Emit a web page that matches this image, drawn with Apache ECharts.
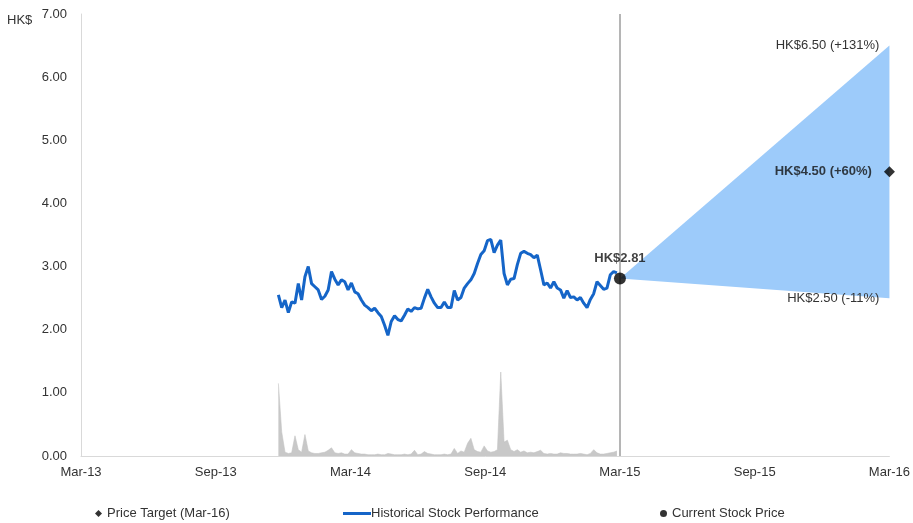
<!DOCTYPE html>
<html>
<head>
<meta charset="utf-8">
<script src="https://cdn.jsdelivr.net/npm/echarts@6/dist/echarts.min.js"></script>
<style>
  html, body { margin: 0; padding: 0; background: #fff; }
  #chart { width: 913px; height: 523px; }
</style>
</head>
<body>
<div id="chart"></div>
<script>
// x axis runs in months after Mar-13
const monthLabels = ["Mar-13", "Sep-13", "Mar-14", "Sep-14", "Mar-15", "Sep-15", "Mar-16"];

// closes, from early Dec-13 to Mar-15
const histStartMonth = 8.79;
const histStepMonth = 0.1478;
const histPrice = [
  2.55, 2.35, 2.47, 2.27, 2.44, 2.42, 2.73, 2.47, 2.84, 3.00,
  2.73, 2.68, 2.63, 2.48, 2.53, 2.63, 2.92, 2.80, 2.71, 2.79,
  2.76, 2.63, 2.74, 2.60, 2.57, 2.47, 2.39, 2.35, 2.30, 2.34,
  2.27, 2.21, 2.07, 1.91, 2.13, 2.22, 2.16, 2.14, 2.23, 2.33,
  2.29, 2.35, 2.33, 2.34, 2.50, 2.64, 2.52, 2.42, 2.35, 2.35,
  2.44, 2.35, 2.35, 2.62, 2.47, 2.51, 2.66, 2.73, 2.79, 2.89,
  3.05, 3.19, 3.25, 3.41, 3.43, 3.22, 3.34, 3.42, 2.89, 2.71,
  2.80, 2.81, 3.03, 3.21, 3.24, 3.21, 3.19, 3.14, 3.18, 2.95,
  2.71, 2.74, 2.66, 2.76, 2.66, 2.63, 2.50, 2.62, 2.51, 2.52,
  2.47, 2.51, 2.42, 2.35, 2.48, 2.57, 2.76, 2.70, 2.64, 2.66,
  2.87, 2.92, 2.90
];
const histVolume = [
  1.15, 0.38, 0.06, 0.04, 0.05, 0.32, 0.10, 0.06, 0.34, 0.08,
  0.05, 0.04, 0.04, 0.05, 0.06, 0.09, 0.13, 0.05, 0.04, 0.05,
  0.03, 0.03, 0.10, 0.05, 0.04, 0.03, 0.03, 0.02, 0.02, 0.02,
  0.03, 0.02, 0.02, 0.04, 0.03, 0.02, 0.02, 0.02, 0.03, 0.02,
  0.03, 0.09, 0.02, 0.03, 0.07, 0.04, 0.03, 0.02, 0.02, 0.02,
  0.03, 0.02, 0.03, 0.12, 0.04, 0.08, 0.06, 0.20, 0.28, 0.10,
  0.07, 0.06, 0.16, 0.08, 0.06, 0.07, 0.10, 1.33, 0.22, 0.25,
  0.10, 0.07, 0.10, 0.06, 0.08, 0.05, 0.06, 0.05, 0.07, 0.09,
  0.04, 0.03, 0.04, 0.03, 0.03, 0.05, 0.04, 0.04, 0.03, 0.03,
  0.03, 0.04, 0.03, 0.02, 0.04, 0.10, 0.05, 0.03, 0.03, 0.04,
  0.05, 0.06, 0.08
];

const currentMonth = 24;
const currentPrice = 2.81;
const targetMonth = 36;
const targetLow = 2.5;
const targetMid = 4.5;
const targetHigh = 6.5;
const targetLabels = ["HK$6.50 (+131%)", "HK$4.50 (+60%)", "HK$2.50 (-11%)"];

const histX = (i) => histStartMonth + i * histStepMonth;
const priceData = histPrice.map((v, i) => [histX(i), v]);
const volumeData = histVolume.map((v, i) => [histX(i), v]);

const FONT = "Liberation Sans, Arial, sans-serif";
const chart = echarts.init(document.getElementById("chart"), null, { renderer: "canvas" });

// target range wedge: from today's price out to the low/high targets
function renderBand(params, api) {
  const start = api.coord([api.value(0), api.value(1)]);
  const high = api.coord([api.value(2), api.value(4)]);
  const low = api.coord([api.value(2), api.value(3)]);
  const font = "13px " + FONT;
  return {
    type: "group",
    children: [
      {
        type: "polygon",
        shape: { points: [start, high, low] },
        style: { fill: "#9dcbfa" },
      },
      {
        type: "text",
        x: high[0] - 10,
        y: high[1],
        style: { text: targetLabels[0], font, fill: "#333", align: "right", verticalAlign: "middle" },
      },
      {
        type: "text",
        x: low[0] - 10,
        y: low[1],
        style: { text: targetLabels[2], font, fill: "#333", align: "right", verticalAlign: "middle" },
      },
    ],
  };
}

const legendBase = {
  bottom: -2,
  itemGap: 0,
  textStyle: { fontFamily: FONT, fontSize: 13, color: "#333" },
  selectedMode: false,
};

chart.setOption({
  animation: false,
  textStyle: { fontFamily: FONT },
  grid: { left: 81, right: 20, top: 14, bottom: 67 },
  graphic: [
    { type: "text", left: 7, top: 14, style: { text: "HK$", font: "13px " + FONT, fill: "#333" } },
  ],
  legend: [
    Object.assign({}, legendBase, {
      left: 90, data: [{ name: "Price Target (Mar-16)", icon: "diamond" }],
      itemWidth: 7, itemHeight: 7,
    }),
    Object.assign({}, legendBase, {
      left: 338, data: [{ name: "Historical Stock Performance", icon: "rect" }],
      itemWidth: 28, itemHeight: 3,
      textStyle: Object.assign({}, legendBase.textStyle, { padding: [0, 0, 0, -5] }),
    }),
    Object.assign({}, legendBase, {
      left: 655, data: [{ name: "Current Stock Price", icon: "circle" }],
      itemWidth: 7, itemHeight: 7,
    }),
  ],
  xAxis: {
    type: "value",
    min: 0,
    max: 36,
    interval: 6,
    axisLine: { lineStyle: { color: "#d9d9d9", width: 1 } },
    axisTick: { show: false },
    splitLine: { show: false },
    axisLabel: {
      margin: 10,
      fontSize: 13,
      color: "#333",
      formatter: (v) => monthLabels[Math.round(v / 6)] || "",
    },
  },
  yAxis: {
    type: "value",
    min: 0,
    max: 7,
    interval: 1,
    axisLine: { show: true, lineStyle: { color: "#d9d9d9", width: 1 } },
    axisTick: { show: false },
    splitLine: { show: false },
    axisLabel: { margin: 14, fontSize: 13, color: "#333", formatter: (v) => v.toFixed(2) },
  },
  series: [
    {
      name: "Volume",
      type: "line",
      data: volumeData,
      symbol: "none",
      lineStyle: { width: 0.6, color: "#c4c4c4" },
      areaStyle: { color: "#c8c8c8", opacity: 1 },
      z: 1,
    },
    {
      name: "Target Range",
      type: "custom",
      renderItem: renderBand,
      data: [[currentMonth, currentPrice, targetMonth, targetLow, targetHigh]],
      encode: { x: [0, 2], y: [1, 3, 4] },
      silent: true,
      z: 2,
    },
    {
      name: "Historical Stock Performance",
      type: "line",
      data: priceData,
      symbol: "none",
      itemStyle: { color: "#1565c8" },
      lineStyle: { width: 3, color: "#1565c8" },
      markLine: {
        silent: true,
        symbol: "none",
        label: { show: false },
        lineStyle: { color: "#b5b5b5", width: 2, type: "solid" },
        data: [{ xAxis: currentMonth }],
      },
      z: 3,
    },
    {
      name: "Price Target (Mar-16)",
      type: "scatter",
      symbol: "diamond",
      symbolSize: 11,
      itemStyle: { color: "#000" },
      data: [[targetMonth, targetMid]],
      label: {
        show: true,
        position: "left",
        distance: 12,
        formatter: targetLabels[1],
        fontSize: 13,
        fontWeight: "bold",
        color: "#111",
      },
      z: 5,
    },
    {
      name: "Current Stock Price",
      type: "scatter",
      symbol: "circle",
      symbolSize: 12,
      itemStyle: { color: "#000" },
      data: [[currentMonth, currentPrice]],
      label: {
        show: true,
        position: "top",
        distance: 8,
        formatter: "HK$" + currentPrice.toFixed(2),
        fontSize: 13,
        fontWeight: "bold",
        color: "#111",
      },
      z: 5,
    },
  ],
});
</script>
</body>
</html>
